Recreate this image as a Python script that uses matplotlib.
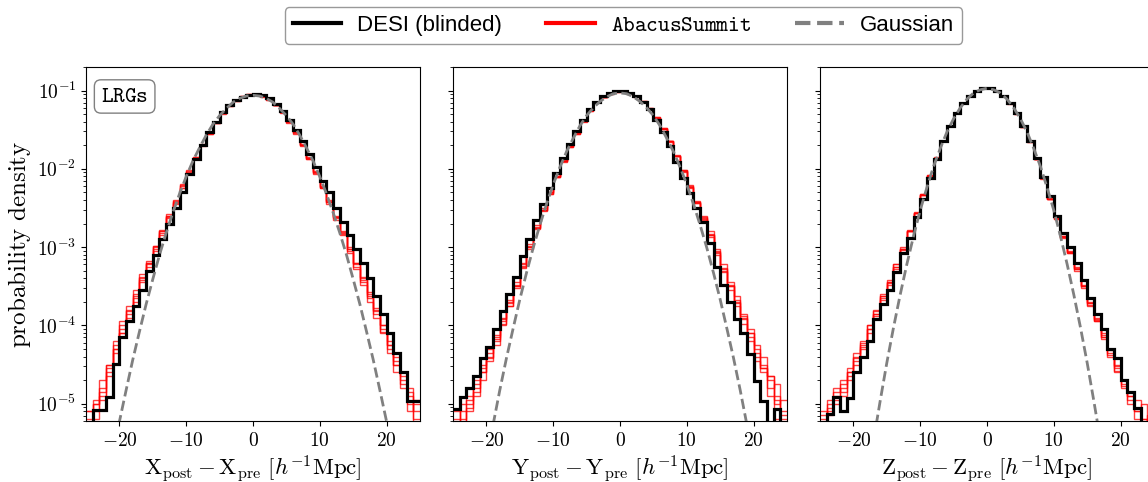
import numpy as np
import matplotlib
matplotlib.use("Agg")
import matplotlib.pyplot as plt
from matplotlib.lines import Line2D
from matplotlib.ticker import FuncFormatter, NullFormatter

plt.rcParams["mathtext.fontset"] = "cm"
plt.rcParams["font.family"] = ["DejaVu Sans"]

# ---------------- data (log10 probability density) ----------------
BIN_EDGES = list(range(-25, 26))  # 50 bins of width 1

AXIS_NAMES = ["X", "Y", "Z"]

DESI_X = [-6.0, -5.08, -5.08, -4.92, -4.49, -4.15, -3.95, -3.75, -3.55, -3.30,
          -3.10, -2.90, -2.70, -2.50, -2.30, -2.06, -1.87, -1.69, -1.53, -1.40,
          -1.28, -1.18, -1.12, -1.08, -1.06, -1.05, -1.06, -1.10, -1.17, -1.26,
          -1.37, -1.50, -1.65, -1.81, -1.98, -2.16, -2.30, -2.50, -2.68, -2.85,
          -3.02, -3.20, -3.40, -3.62, -3.85, -4.10, -4.35, -4.60, -4.96, -4.96]

DESI_Y = [-5.07, -4.92, -4.80, -4.65, -4.42, -4.27, -4.05, -3.82, -3.60, -3.38,
          -3.12, -2.90, -2.65, -2.45, -2.25, -2.05, -1.86, -1.68, -1.52, -1.37,
          -1.24, -1.14, -1.07, -1.03, -1.01, -1.01, -1.03, -1.07, -1.14, -1.24,
          -1.37, -1.53, -1.71, -1.91, -2.12, -2.31, -2.50, -2.68, -2.95, -3.25,
          -3.49, -3.70, -3.92, -4.10, -4.36, -4.71, -4.96, -6.0, -5.07, -6.0]

DESI_Z = [-6.0, -5.13, -4.92, -5.10, -4.93, -4.60, -4.40, -4.20, -3.92, -3.73,
          -3.55, -3.32, -3.08, -2.88, -2.62, -2.38, -2.12, -1.87, -1.65, -1.45,
          -1.29, -1.16, -1.07, -1.00, -0.97, -0.97, -1.00, -1.07, -1.16, -1.29,
          -1.45, -1.64, -1.86, -2.10, -2.35, -2.60, -2.82, -3.00, -3.20, -3.42,
          -3.65, -3.85, -4.05, -4.30, -4.42, -4.70, -4.85, -5.05, -6.0, -6.0]

ABACUS_X = [
    [-5.3, -5.0, -4.8, -4.55, -4.3, -4.0, -3.8, -3.62, -3.4, -3.18,
     -2.98, -2.78, -2.58, -2.40, -2.20, -2.02, -1.85, -1.68, -1.53, -1.40,
     -1.28, -1.19, -1.12, -1.07, -1.05, -1.05, -1.07, -1.11, -1.18, -1.27,
     -1.39, -1.52, -1.68, -1.85, -2.03, -2.22, -2.40, -2.60, -2.80, -3.00,
     -3.20, -3.40, -3.58, -3.78, -4.0, -4.2, -4.45, -4.7, -4.9, -5.1],
    [-5.1, -5.2, -4.9, -4.6, -4.2, -3.95, -3.85, -3.6, -3.35, -3.22,
     -3.0, -2.8, -2.6, -2.42, -2.22, -2.04, -1.86, -1.70, -1.54, -1.41,
     -1.29, -1.19, -1.12, -1.08, -1.06, -1.05, -1.07, -1.12, -1.19, -1.28,
     -1.40, -1.54, -1.70, -1.87, -2.05, -2.24, -2.43, -2.63, -2.82, -3.05,
     -3.25, -3.42, -3.65, -3.85, -4.05, -4.3, -4.5, -4.65, -5.0, -5.2],
    [-5.2, -5.0, -4.7, -4.5, -4.35, -4.1, -3.75, -3.55, -3.45, -3.2,
     -3.02, -2.82, -2.62, -2.44, -2.24, -2.05, -1.87, -1.70, -1.55, -1.41,
     -1.29, -1.20, -1.13, -1.08, -1.06, -1.06, -1.08, -1.12, -1.19, -1.29,
     -1.41, -1.55, -1.71, -1.88, -2.06, -2.25, -2.45, -2.65, -2.85, -3.08,
     -3.28, -3.48, -3.7, -3.9, -4.1, -4.35, -4.6, -4.8, -4.85, -5.3],
    [-6.0, -5.1, -4.95, -4.5, -4.25, -4.05, -3.9, -3.7, -3.42, -3.25,
     -3.05, -2.85, -2.63, -2.45, -2.25, -2.06, -1.88, -1.71, -1.55, -1.42,
     -1.30, -1.20, -1.13, -1.08, -1.06, -1.05, -1.07, -1.11, -1.18, -1.28,
     -1.40, -1.53, -1.69, -1.86, -2.04, -2.23, -2.42, -2.62, -2.83, -3.02,
     -3.22, -3.45, -3.62, -3.82, -4.08, -4.25, -4.4, -4.75, -5.1, -4.95],
    [-5.1, -4.95, -4.85, -4.65, -4.3, -4.1, -3.82, -3.65, -3.38, -3.2,
     -2.98, -2.8, -2.6, -2.41, -2.21, -2.03, -1.85, -1.69, -1.54, -1.40,
     -1.28, -1.19, -1.12, -1.07, -1.05, -1.05, -1.07, -1.11, -1.18, -1.27,
     -1.39, -1.53, -1.69, -1.86, -2.04, -2.23, -2.41, -2.61, -2.81, -3.03,
     -3.2, -3.38, -3.6, -3.8, -4.0, -4.25, -4.5, -4.6, -4.8, -5.0],
]

ABACUS_Y = [
    [-6.0, -5.2, -5.0, -4.8, -4.6, -4.45, -4.2, -3.98, -3.75, -3.5,
     -3.25, -3.0, -2.75, -2.53, -2.32, -2.1, -1.9, -1.71, -1.54, -1.39,
     -1.25, -1.15, -1.08, -1.03, -1.01, -1.01, -1.03, -1.07, -1.13, -1.22,
     -1.34, -1.48, -1.64, -1.82, -2.02, -2.22, -2.42, -2.62, -2.83, -3.05,
     -3.28, -3.5, -3.7, -3.9, -4.1, -4.3, -4.5, -4.65, -4.95, -5.2],
    [-5.1, -5.3, -4.95, -4.85, -4.55, -4.35, -4.25, -3.95, -3.7, -3.48,
     -3.22, -2.98, -2.74, -2.52, -2.3, -2.09, -1.9, -1.72, -1.55, -1.39,
     -1.26, -1.15, -1.08, -1.04, -1.02, -1.01, -1.03, -1.07, -1.14, -1.23,
     -1.35, -1.49, -1.65, -1.83, -2.03, -2.23, -2.44, -2.64, -2.85, -3.08,
     -3.3, -3.5, -3.68, -3.88, -4.15, -4.35, -4.4, -4.8, -4.75, -5.1],
    [-6.0, -5.1, -5.1, -4.75, -4.7, -4.4, -4.15, -4.0, -3.72, -3.52,
     -3.27, -3.02, -2.77, -2.54, -2.32, -2.11, -1.91, -1.72, -1.55, -1.40,
     -1.26, -1.15, -1.08, -1.04, -1.02, -1.02, -1.04, -1.08, -1.14, -1.23,
     -1.35, -1.49, -1.66, -1.84, -2.04, -2.24, -2.44, -2.65, -2.87, -3.1,
     -3.32, -3.55, -3.75, -3.98, -4.2, -4.45, -4.6, -4.9, -5.2, -6.0],
    [-5.2, -5.0, -4.9, -4.7, -4.5, -4.3, -4.12, -3.9, -3.68, -3.45,
     -3.2, -2.96, -2.72, -2.5, -2.29, -2.09, -1.89, -1.71, -1.54, -1.39,
     -1.25, -1.15, -1.08, -1.03, -1.01, -1.01, -1.03, -1.07, -1.13, -1.22,
     -1.34, -1.48, -1.64, -1.83, -2.02, -2.21, -2.41, -2.6, -2.8, -3.02,
     -3.22, -3.45, -3.62, -3.85, -4.05, -4.25, -4.55, -4.7, -5.0, -4.95],
    [-6.0, -6.0, -5.05, -4.9, -4.6, -4.42, -4.18, -3.92, -3.75, -3.5,
     -3.24, -3.0, -2.76, -2.53, -2.31, -2.1, -1.9, -1.71, -1.54, -1.39,
     -1.25, -1.15, -1.08, -1.03, -1.01, -1.01, -1.03, -1.07, -1.14, -1.23,
     -1.35, -1.49, -1.65, -1.83, -2.03, -2.23, -2.43, -2.63, -2.84, -3.06,
     -3.27, -3.48, -3.72, -3.92, -4.1, -4.4, -4.55, -4.65, -4.9, -5.15],
]

ABACUS_Z = [
    [-5.2, -5.0, -4.85, -4.8, -4.6, -4.45, -4.25, -4.05, -3.85, -3.65,
     -3.45, -3.25, -3.02, -2.8, -2.56, -2.32, -2.08, -1.85, -1.64, -1.45,
     -1.29, -1.16, -1.07, -1.0, -0.97, -0.97, -1.0, -1.07, -1.16, -1.29,
     -1.45, -1.65, -1.87, -2.12, -2.38, -2.63, -2.86, -3.06, -3.27, -3.5,
     -3.72, -3.92, -4.12, -4.35, -4.55, -4.75, -4.9, -5.05, -5.2, -5.3],
    [-5.1, -5.15, -4.9, -4.7, -4.55, -4.5, -4.3, -4.0, -3.82, -3.6,
     -3.42, -3.22, -3.0, -2.78, -2.55, -2.33, -2.09, -1.86, -1.64, -1.45,
     -1.29, -1.16, -1.07, -1.0, -0.97, -0.97, -1.0, -1.07, -1.17, -1.30,
     -1.46, -1.66, -1.88, -2.12, -2.38, -2.64, -2.88, -3.08, -3.3, -3.52,
     -3.75, -3.95, -4.15, -4.4, -4.6, -4.7, -5.0, -4.95, -5.3, -6.0],
    [-6.0, -4.95, -5.0, -4.75, -4.65, -4.4, -4.2, -4.1, -3.8, -3.68,
     -3.48, -3.28, -3.04, -2.8, -2.57, -2.33, -2.09, -1.86, -1.65, -1.45,
     -1.29, -1.16, -1.07, -1.0, -0.97, -0.97, -1.0, -1.07, -1.16, -1.30,
     -1.46, -1.65, -1.87, -2.11, -2.37, -2.62, -2.86, -3.05, -3.26, -3.48,
     -3.7, -3.9, -4.1, -4.3, -4.5, -4.8, -4.85, -5.1, -5.0, -5.3],
    [-5.15, -5.05, -4.8, -4.85, -4.7, -4.35, -4.28, -4.0, -3.88, -3.62,
     -3.44, -3.22, -3.02, -2.79, -2.56, -2.32, -2.08, -1.86, -1.64, -1.45,
     -1.29, -1.16, -1.07, -1.0, -0.97, -0.97, -1.0, -1.07, -1.16, -1.29,
     -1.45, -1.65, -1.88, -2.12, -2.38, -2.63, -2.87, -3.07, -3.28, -3.5,
     -3.74, -3.95, -4.18, -4.38, -4.52, -4.78, -4.95, -5.2, -6.0, -5.15],
    [-6.0, -5.1, -4.95, -4.9, -4.6, -4.42, -4.22, -4.05, -3.85, -3.62,
     -3.46, -3.26, -3.03, -2.79, -2.56, -2.33, -2.09, -1.86, -1.64, -1.45,
     -1.29, -1.16, -1.07, -1.0, -0.97, -0.97, -1.0, -1.07, -1.16, -1.29,
     -1.46, -1.66, -1.88, -2.13, -2.39, -2.64, -2.87, -3.06, -3.28, -3.5,
     -3.72, -3.93, -4.15, -4.32, -4.58, -4.7, -4.9, -5.1, -5.2, -6.0],
]

GAUSS_XS = list(range(-22, 23))
GAUSS_X = [-6.11, -5.66, -5.23, -4.83, -4.44, -4.08, -3.73, -3.41, -3.10, -2.82,
           -2.56, -2.32, -2.10, -1.90, -1.73, -1.57, -1.43, -1.32, -1.23, -1.15,
           -1.10, -1.07, -1.06, -1.07, -1.10, -1.15, -1.23, -1.32, -1.43, -1.57,
           -1.73, -1.90, -2.10, -2.32, -2.56, -2.82, -3.10, -3.41, -3.73, -4.08,
           -4.44, -4.83, -5.23, -5.66, -6.11]
GAUSS_Y = [-6.71, -6.21, -5.73, -5.27, -4.83, -4.42, -4.04, -3.67, -3.33, -3.01,
           -2.72, -2.45, -2.20, -1.98, -1.78, -1.61, -1.45, -1.32, -1.22, -1.14,
           -1.08, -1.04, -1.03, -1.04, -1.08, -1.14, -1.22, -1.32, -1.45, -1.61,
           -1.78, -1.98, -2.20, -2.45, -2.72, -3.01, -3.33, -3.67, -4.04, -4.42,
           -4.83, -5.27, -5.73, -6.21, -6.71]
GAUSS_Z = [-8.5, -7.9, -7.2, -6.6, -6.03, -5.48, -4.97, -4.48, -4.03, -3.61,
           -3.22, -2.86, -2.53, -2.24, -1.97, -1.74, -1.53, -1.36, -1.22, -1.11,
           -1.03, -0.99, -0.97, -0.99, -1.03, -1.11, -1.22, -1.36, -1.53, -1.74,
           -1.97, -2.24, -2.53, -2.86, -3.22, -3.61, -4.03, -4.48, -4.97, -5.48,
           -6.03, -6.6, -7.2, -7.9, -8.5]

X_TICKS = [-20, -10, 0, 10, 20]
Y_TICKS = [1e-5, 1e-4, 1e-3, 1e-2, 1e-1]

DESI_ALL = [DESI_X, DESI_Y, DESI_Z]
ABACUS_ALL = [ABACUS_X, ABACUS_Y, ABACUS_Z]
GAUSS_ALL = [GAUSS_X, GAUSS_Y, GAUSS_Z]

# ---------------- figure ----------------
W, H = 1148, 482
fig = plt.figure(figsize=(W / 100, H / 100), dpi=100)
lefts = [86, 453, 820]
ax_w, ax_top, ax_bot = 334, 67, 421

xfmt = FuncFormatter(lambda v, p: r"$%d$" % int(round(v)))
yfmt = FuncFormatter(lambda v, p: r"$10^{%d}$" % int(round(np.log10(v))))

edges = np.array(BIN_EDGES, dtype=float)
axes = []
for i, name in enumerate(AXIS_NAMES):
    ax = fig.add_axes([lefts[i] / W, 1 - ax_bot / H, ax_w / W, (ax_bot - ax_top) / H])
    axes.append(ax)
    ax.set_yscale("log")
    for r in ABACUS_ALL[i]:
        ax.stairs(10 ** np.array(r), edges, baseline=None, color="red",
                  lw=1.0, alpha=0.75, zorder=2)
    ax.stairs(10 ** np.array(DESI_ALL[i]), edges, baseline=None, color="black",
              lw=2.3, zorder=3)
    ax.plot(GAUSS_XS, 10 ** np.array(GAUSS_ALL[i]), color="gray", ls="--",
            lw=2.0, zorder=4)
    ax.set_xlim(-25, 25)
    ax.set_ylim(6e-6, 0.2)
    ax.set_xticks(X_TICKS)
    ax.set_yticks(Y_TICKS)
    ax.xaxis.set_major_formatter(xfmt)
    ax.yaxis.set_major_formatter(yfmt)
    ax.yaxis.set_minor_formatter(NullFormatter())
    ax.tick_params(labelsize=14)
    ax.set_xlabel(r"$\mathrm{%s}_{\rm post} - \mathrm{%s}_{\rm pre}\ [h^{-1}\mathrm{Mpc}]$"
                  % (name, name), fontsize=16.5, labelpad=3)
    if i > 0:
        ax.tick_params(axis="y", labelleft=False)

axes[0].set_ylabel(r"$\mathrm{probability\ density}$", fontsize=18, labelpad=3)
axes[0].text(0.045, 0.945, r"$\mathtt{LRGs}$", transform=axes[0].transAxes,
             ha="left", va="top", fontsize=16,
             bbox=dict(boxstyle="round,pad=0.3", fc="white", ec="gray", lw=1.0))

handles = [Line2D([], [], color="black", lw=3),
           Line2D([], [], color="red", lw=3),
           Line2D([], [], color="gray", lw=3, ls="--")]
labels = ["DESI (blinded)", r"$\mathtt{AbacusSummit}$", "Gaussian"]
leg = fig.legend(handles, labels, loc="upper center", bbox_to_anchor=(0.543, 0.985),
                 ncol=3, frameon=True, fancybox=True, borderaxespad=0.0,
                 columnspacing=2.0, handlelength=2.2, handletextpad=0.7,
                 borderpad=0.35, prop={"family": "Liberation Sans", "size": 16})
leg.get_frame().set_edgecolor("gray")

fig.savefig("out.png", dpi=100)
